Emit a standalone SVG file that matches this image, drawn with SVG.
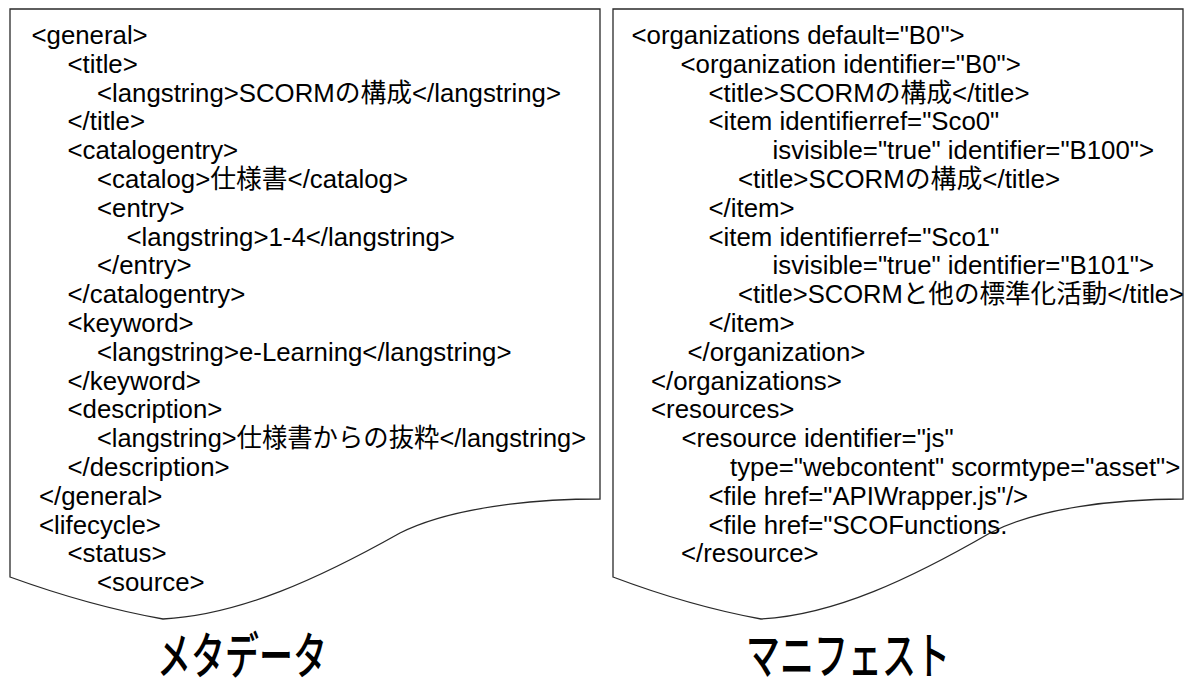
<svg xmlns="http://www.w3.org/2000/svg" width="1188" height="686" viewBox="0 0 1188 686">
<style>
.doc{fill:#fff;stroke:#2a2a2a;stroke-width:1.3;stroke-linejoin:miter}
.t{font-family:"Liberation Sans","Noto Sans CJK JP",Arial,sans-serif;font-size:25.8px;fill:#000}
.lbl{font-family:"Noto Sans CJK JP","Liberation Sans",sans-serif;font-size:50px;font-weight:500;fill:#000}
</style>
<rect width="1188" height="686" fill="#fff"/>
<g id="metadata">
<path class="doc" d="M10,9 H600 V499 C530,499 450,508 400,533 C320,578 240,615 163,619 Q90,606 10,577 Z"/>
<text class="t" x="31.5" y="44">&lt;general&gt;</text>
<text class="t" x="67.5" y="72.8">&lt;title&gt;</text>
<text class="t" x="97" y="101.6" textLength="464" lengthAdjust="spacingAndGlyphs">&lt;langstring&gt;SCORMの構成&lt;/langstring&gt;</text>
<text class="t" x="67.5" y="130.4">&lt;/title&gt;</text>
<text class="t" x="67.5" y="159.2">&lt;catalogentry&gt;</text>
<text class="t" x="97" y="188" textLength="311" lengthAdjust="spacingAndGlyphs">&lt;catalog&gt;仕様書&lt;/catalog&gt;</text>
<text class="t" x="97" y="216.8">&lt;entry&gt;</text>
<text class="t" x="126.5" y="245.6">&lt;langstring&gt;1-4&lt;/langstring&gt;</text>
<text class="t" x="97" y="274.4">&lt;/entry&gt;</text>
<text class="t" x="67.5" y="303.2">&lt;/catalogentry&gt;</text>
<text class="t" x="67.5" y="332">&lt;keyword&gt;</text>
<text class="t" x="97" y="360.8">&lt;langstring&gt;e-Learning&lt;/langstring&gt;</text>
<text class="t" x="67.5" y="389.6">&lt;/keyword&gt;</text>
<text class="t" x="67.5" y="418.4">&lt;description&gt;</text>
<text class="t" x="97" y="447.2" textLength="489" lengthAdjust="spacingAndGlyphs">&lt;langstring&gt;仕様書からの抜粋&lt;/langstring&gt;</text>
<text class="t" x="67.5" y="476">&lt;/description&gt;</text>
<text class="t" x="39" y="504.8">&lt;/general&gt;</text>
<text class="t" x="39" y="533.6">&lt;lifecycle&gt;</text>
<text class="t" x="67.5" y="562.4">&lt;status&gt;</text>
<text class="t" x="97" y="591.2">&lt;source&gt;</text>
</g>
<g id="manifest">
<path class="doc" d="M613,9 H1183 V499 C1115,499 1038,508 990,533 C912,578 835,615 761,619 Q690,606 613,577 Z"/>
<text class="t" x="631.5" y="44">&lt;organizations default="B0"&gt;</text>
<text class="t" x="680.5" y="72.8">&lt;organization identifier="B0"&gt;</text>
<text class="t" x="708.5" y="101.6" textLength="321" lengthAdjust="spacingAndGlyphs">&lt;title&gt;SCORMの構成&lt;/title&gt;</text>
<text class="t" x="708.5" y="130.4">&lt;item identifierref="Sco0"</text>
<text class="t" x="772.5" y="159.2">isvisible="true" identifier="B100"&gt;</text>
<text class="t" x="738" y="188" textLength="322" lengthAdjust="spacingAndGlyphs">&lt;title&gt;SCORMの構成&lt;/title&gt;</text>
<text class="t" x="708.5" y="216.8">&lt;/item&gt;</text>
<text class="t" x="708.5" y="245.6">&lt;item identifierref="Sco1"</text>
<text class="t" x="772.5" y="274.4">isvisible="true" identifier="B101"&gt;</text>
<text class="t" x="738" y="303.2" textLength="446" lengthAdjust="spacingAndGlyphs">&lt;title&gt;SCORMと他の標準化活動&lt;/title&gt;</text>
<text class="t" x="708.5" y="332">&lt;/item&gt;</text>
<text class="t" x="687.5" y="360.8">&lt;/organization&gt;</text>
<text class="t" x="651" y="389.6">&lt;/organizations&gt;</text>
<text class="t" x="651" y="418.4">&lt;resources&gt;</text>
<text class="t" x="681.5" y="447.2">&lt;resource identifier="js"</text>
<text class="t" x="730" y="476">type="webcontent" scormtype="asset"&gt;</text>
<text class="t" x="708.5" y="504.8">&lt;file href="APIWrapper.js"/&gt;</text>
<text class="t" x="708.5" y="533.6">&lt;file href="SCOFunctions.</text>
<text class="t" x="681" y="562.4">&lt;/resource&gt;</text>
</g>
<g id="labels">
<text class="lbl" transform="translate(157,674) scale(0.68,1)">メタデータ</text>
<text class="lbl" transform="translate(746,674) scale(0.68,1)">マニフェスト</text>
</g>
</svg>
